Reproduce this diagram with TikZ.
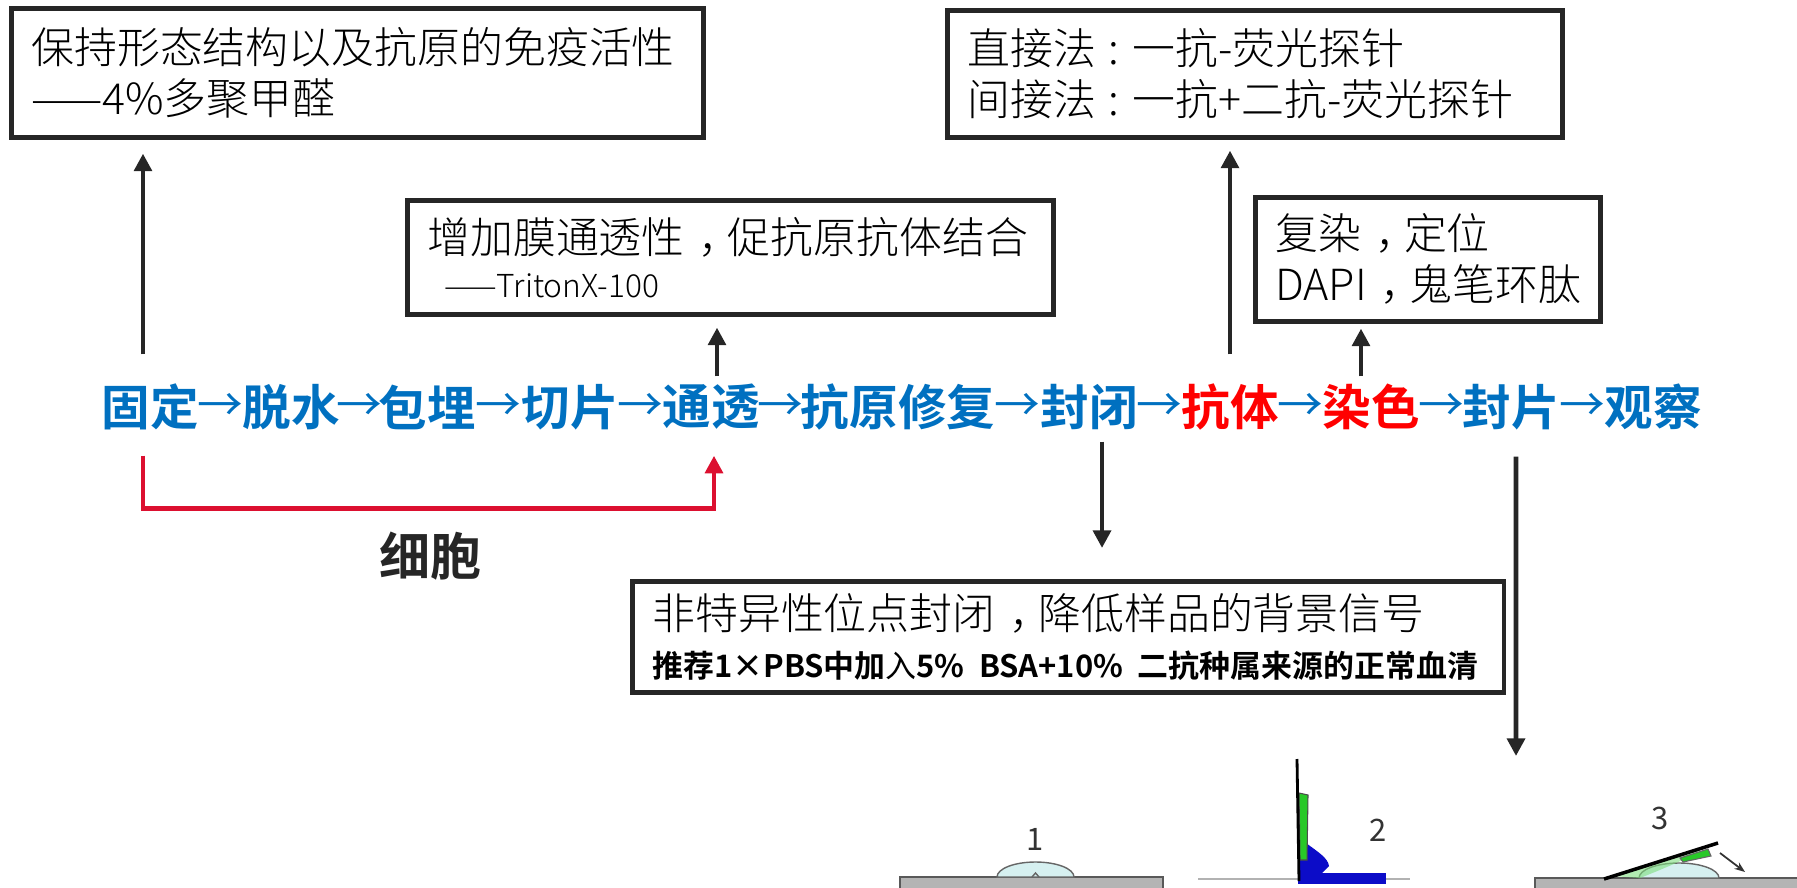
\documentclass[tikz,border=0pt]{standalone}
\usepackage{fontspec}
\IfFontExistsTF{Noto Sans CJK SC Light}
  {\setmainfont{Noto Sans CJK SC Light}[BoldFont={Noto Sans CJK SC Bold}]}
  {\setmainfont{Noto Sans CJK SC}[BoldFont={Noto Sans CJK SC Bold}]}
\newfontfamily\arrowfont{Noto Sans CJK SC}
\usetikzlibrary{arrows.meta,calc}

\definecolor{stepblue}{RGB}{0,112,192}
\definecolor{stepred}{RGB}{255,0,0}
\definecolor{brackred}{RGB}{220,16,48}
\definecolor{linegray}{RGB}{38,38,38}
\definecolor{dropcyan}{RGB}{214,240,240}
\definecolor{slidegray}{RGB}{180,180,180}
\definecolor{glassgreen}{RGB}{40,200,40}
\definecolor{sealblue}{RGB}{12,12,200}

% full-width comma and colon, ink centred in the em
\newcommand{\cnc}{\makebox[1em][c]{\makebox[0.35em][l]{，}}}
\newcommand{\cnk}{\makebox[0.85em][c]{:}}

\tikzset{
  stepword/.style={inner sep=0pt, minimum height=0.6cm, font=\bfseries\fontsize{13.8}{16}\selectfont},
  notebox/.style={draw=linegray, line width=1.3pt, anchor=north west, align=left,
    inner xsep=0.2cm, inner ysep=0pt, font=\fontsize{12.2}{14.5}\selectfont},
  pointer/.style={draw=linegray, line width=1.3pt, -{Triangle[width=5pt,length=5pt]}},
  cellpath/.style={draw=brackred, line width=1.4pt, -{Triangle[width=5pt,length=5pt]}},
  slide/.style={fill=slidegray, draw=gray!70!black, line width=0.4pt},
  drop/.style={fill=dropcyan, draw=gray!80!black, line width=0.4pt},
  panelnum/.style={font=\arrowfont\fontsize{8.8}{10}\selectfont, text=black!80}
}

\begin{document}
\begin{tikzpicture}[x=0.01cm, y=-0.01cm]
    \useasboundingbox (0,0) rectangle (1797,888);
    % steps of the protocol
    \foreach \n/\x/\w/\c in {s1/150/固定/stepblue, s2/291/脱水/stepblue, s3/427/包埋/stepblue,
      s4/570/切片/stepblue, s5/711/通透/stepblue, s6/898/抗原修复/stepblue, s7/1089/封闭/stepblue,
      s8/1230/抗体/stepred, s9/1371/染色/stepred, s10/1511/封片/stepblue, s11/1653/观察/stepblue}
    \node[stepword, text=\c] (\n) at (\x,407) {\w};
    \foreach \a/\b in {s1/s2, s2/s3, s3/s4, s4/s5, s5/s6, s6/s7, s7/s8, s8/s9, s9/s10, s10/s11}
    \node[stepword, text=stepblue, font=\arrowfont\fontsize{13}{16}\selectfont] (to\b) at ($(\a.east)!0.5!(\b.west)$) {→};

    % notes
    \node[notebox, minimum height=1.29cm, text width=6.52cm] (fixbox) at (9,6)
      {保持形态结构以及抗原的免疫活性\\——4\%多聚甲醛};
    \node[notebox, minimum height=1.14cm, text width=6.06cm] (permbox) at (405,198)
      {增加膜通透性\cnc 促抗原抗体结合\\[-2pt]{\fontsize{9}{11}\selectfont\hspace{0.17cm}——TritonX-100}};
    \node[notebox, minimum height=1.27cm, text width=5.75cm] (abbox) at (945,8)
      {直接法\cnk 一抗-荧光探针\\间接法\cnk 一抗+二抗-荧光探针};
    \node[notebox, minimum height=1.24cm, text width=3.05cm] (dyebox) at (1253,195)
      {复染\cnc 定位\\DAPI\cnc 鬼笔环肽};
    \node[notebox, minimum height=1.11cm, text width=8.31cm] (blockbox) at (630,579)
      {非特异性位点封闭\cnc 降低样品的背景信号\\[-1pt]\mbox{\bfseries\fontsize{8.8}{11}\selectfont 推荐1×PBS中加{\arrowfont\mdseries 入}5\% BSA+10\% 二抗种属来源的正常血清}};

    % arrows to the notes
    \coordinate (f1) at ([xshift=-0.07cm]s1.north);
    \draw[pointer, shorten <=0.22cm, shorten >=0.14cm] (f1) -- (f1 |- fixbox.south);
    \coordinate (f5) at ([xshift=0.06cm]s5.north);
    \draw[pointer, shorten >=0.11cm] (f5) -- (f5 |- permbox.south);
    \draw[pointer, shorten <=0.22cm, shorten >=0.11cm] (s8.north) -- (s8.north |- abbox.south);
    \coordinate (f9) at ([xshift=-0.1cm]s9.north);
    \draw[pointer, shorten >=0.05cm] (f9) -- (f9 |- dyebox.south);
    \coordinate (f7) at ([xshift=0.13cm]s7.south);
    \draw[pointer, shorten <=0.04cm, shorten >=0.31cm] (f7) -- (f7 |- blockbox.north);
    \coordinate (f10) at ([xshift=0.05cm]s10.south);
    \coordinate (mount) at (1516,756);
    \draw[pointer, shorten <=0.19cm] (f10) -- (mount);

    % cells skip the first steps
    \coordinate (c1) at ([xshift=-0.07cm]s1.south);
    \coordinate (c5) at ([xshift=0.03cm]s5.south);
    \draw[cellpath, shorten <=0.18cm, shorten >=0.18cm] (c1) -- ++(0,71) -| (c5);
    \node[font=\bfseries\fontsize{14.5}{16}\selectfont, text=linegray] (cells) at (430,556) {细胞};

    % mounting, panel 1
    \filldraw[slide] (900,877) rectangle (1163,895);
    \filldraw[drop] (997,877) arc[start angle=180, end angle=360, x radius=38.5, y radius=15] -- cycle;
    \draw[gray!80!black, line width=0.4pt] (1032,877) -- (1035.5,873) -- (1039,877);
    \node[panelnum] (n1) at (1035,839) {1};
    % panel 2
    \draw[gray!60, line width=0.6pt] (1198,879) -- (1410,879);
    \fill[sealblue] (1298,873) rectangle (1386,884);
    \fill[sealblue] (1299,841) -- (1306,843) .. controls (1318,852) and (1328,858) .. (1329,866)
      -- (1322,873) -- (1299,873) -- cycle;
    \filldraw[fill=glassgreen, draw=black!70, line width=0.3pt] (1299,793) -- (1308,795) -- (1307,860) -- (1300,860) -- cycle;
    \draw[black, line width=0.8pt] (1297,759) -- (1299,881);
    \node[panelnum] (n2) at (1378,830) {2};
    % panel 3
    \filldraw[slide] (1535,878) rectangle (1800,895);
    \filldraw[drop] (1639,878) arc[start angle=180, end angle=360, x radius=40, y radius=15] -- cycle;
    \fill[glassgreen!60, opacity=0.6] (1612,876) -- (1700,850) .. controls (1690,858) and (1660,870) .. (1640,878) -- cycle;
    \filldraw[fill=glassgreen, draw=black!60, line width=0.3pt] (1680,858) -- (1708,849) -- (1711,856) -- (1683,862) -- cycle;
    \draw[black, line width=1pt] (1604,879) -- (1718,843);
    \draw[-{Stealth[length=3pt]}, line width=0.5pt, black!80] (1720,853) -- (1745,872);
    \node[panelnum] (n3) at (1660,818) {3};
\end{tikzpicture}
\end{document}
